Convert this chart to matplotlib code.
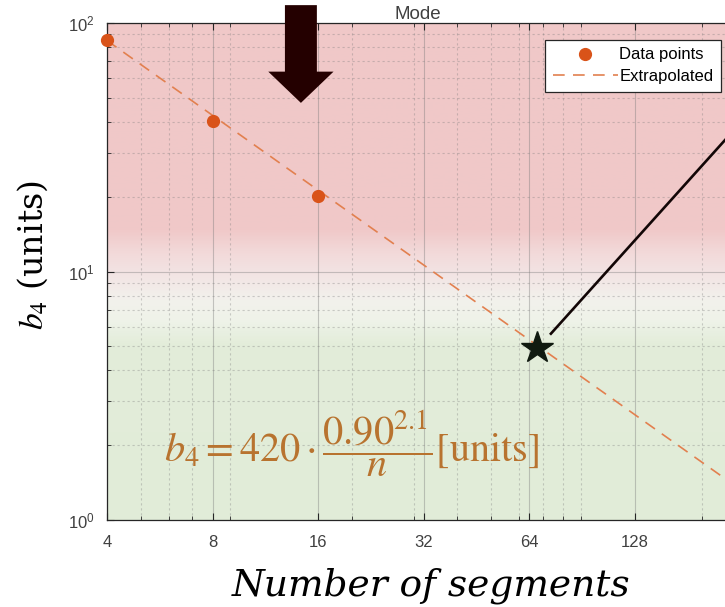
import matplotlib
matplotlib.use('Agg')
import matplotlib.pyplot as plt
import numpy as np
from matplotlib.colors import LinearSegmentedColormap
from matplotlib.lines import Line2D

# measured points
n_points = [4, 8, 16]
b4_points = [85.5, 40.4, 20.1]

# extrapolated line end points
n_extrap = [4, 256]
b4_extrap = [85.0, 1.33]

# highlighted point and pointer line
star_n, star_b4 = 67.6, 4.9
pointer_n = [73.9, 292]
pointer_b4 = [5.62, 48.5]

# big arrow at the top (tail, tip)
arrow_n = 14.3
arrow_tail_b4 = 118
arrow_tip_b4 = 47.7

x_ticks = [4, 8, 16, 32, 64, 128, 256]
x_tick_labels = ['4', '8', '16', '32', '64', '128', '256']

# background gradient stops (axes fraction, colour)
bg_stops = [0.0, 0.352, 0.402, 0.443, 0.499, 0.543, 0.583, 1.0]
bg_colors = ['#e1ecd8', '#e3edda', '#eff3e9', '#f2f1ec', '#f3e3e3',
             '#f2d8d8', '#f0c9c9', '#f0c8c8']

plt.rcParams['font.family'] = ['Liberation Sans', 'DejaVu Sans']
plt.rcParams['mathtext.fontset'] = 'stix'

fig = plt.figure(figsize=(7.25, 6.07), dpi=100)
ax = fig.add_axes([107 / 725, 87 / 607, 633 / 725, 497 / 607])

cmap = LinearSegmentedColormap.from_list('bg', list(zip(bg_stops, bg_colors)))
grad = np.linspace(0, 1, 500).reshape(-1, 1)
ax.imshow(grad, cmap=cmap, origin='lower', extent=[0, 1, 0, 1],
          transform=ax.transAxes, aspect='auto', zorder=0)

ax.set_xscale('log')
ax.set_yscale('log')

ax.plot(n_extrap, b4_extrap, color='#e2804f', lw=1.2, dashes=(7, 5), zorder=3)
ax.plot(n_points, b4_points, 'o', color='#d95319', ms=8.5, zorder=4,
        clip_on=False)

ax.plot(pointer_n, pointer_b4, color='#120606', lw=1.9, clip_on=False, zorder=5)
ax.plot([star_n], [star_b4], marker='*', color='#101a10', ms=24, zorder=6)

ax.annotate('', xy=(arrow_n, arrow_tip_b4), xytext=(arrow_n, arrow_tail_b4),
            annotation_clip=False,
            arrowprops=dict(arrowstyle='simple,head_length=0.45,head_width=0.94,tail_width=0.46',
                            mutation_scale=50, color='#240000', lw=0,
                            shrinkA=0, shrinkB=0, clip_on=False),
            zorder=7)

ax.set_xlim(4, 256)
ax.set_ylim(1, 100)
ax.set_xticks(x_ticks)
ax.set_xticklabels(x_tick_labels)
ax.xaxis.set_minor_locator(matplotlib.ticker.LogLocator(base=10, subs=np.arange(2, 10)))
ax.xaxis.set_minor_formatter(matplotlib.ticker.NullFormatter())

ax.grid(True, which='major', color='#7a7a7a', alpha=0.4, lw=0.8)
ax.grid(True, which='minor', color='#7a7a7a', alpha=0.35, lw=0.8,
        linestyle=(0, (2, 2.5)))

ax.tick_params(which='both', direction='in', top=True, right=True,
               colors='#262626', labelcolor='#404040', labelsize=12)
ax.tick_params(which='major', length=5)
ax.tick_params(axis='x', which='major', pad=11)
ax.tick_params(axis='y', which='major', pad=9)
ax.tick_params(which='minor', length=3)
for s in ax.spines.values():
    s.set_color('#262626')
    s.set_linewidth(0.9)

ax.set_title('Mode', color='#404040', fontsize=13.5, pad=1, x=0.491)

ax.text(0.387, 0.153, r'$b_4 = 420\cdot\dfrac{0.90^{2.1}}{n}\mathrm{[units]}$',
        transform=ax.transAxes, ha='center', va='center', fontsize=29,
        color='#b8732f', zorder=8)

fig.text(33 / 725, 1 - 255 / 607, r'$b_4$ (units)', rotation=90,
         ha='center', va='center', fontsize=24, family='DejaVu Serif')
fig.text(431 / 725, 11 / 607, 'Number of segments', family='DejaVu Serif',
         style='italic', ha='center', va='baseline', fontsize=27)

handles = [Line2D([], [], marker='o', ls='none', color='#d95319', ms=8.5),
           Line2D([], [], color='#e2804f', lw=1.2, dashes=(7, 5))]
leg = fig.legend(handles, ['Data points', 'Extrapolated'], loc='upper right',
                 bbox_to_anchor=(721 / 725, 1 - 40 / 607), fontsize=12,
                 fancybox=False, framealpha=1, edgecolor='#262626',
                 handlelength=3.9, borderpad=0.45, labelspacing=0.4,
                 handletextpad=0.1, borderaxespad=0)
leg.get_frame().set_linewidth(0.9)

fig.savefig('out.png', dpi=100)
